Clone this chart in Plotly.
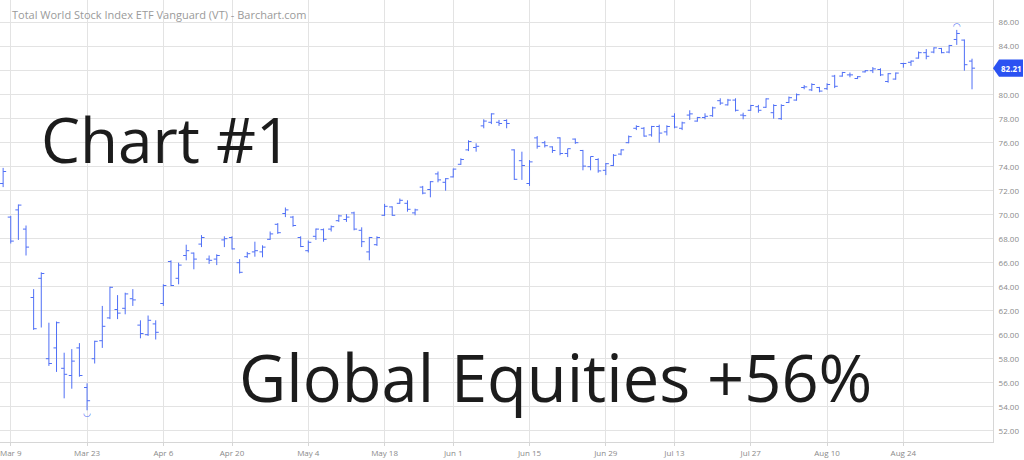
import plotly.graph_objects as go

dates = ["2020-03-06","2020-03-09","2020-03-10","2020-03-11","2020-03-12","2020-03-13",
 "2020-03-16","2020-03-17","2020-03-18","2020-03-19","2020-03-20",
 "2020-03-23","2020-03-24","2020-03-25","2020-03-26","2020-03-27",
 "2020-03-30","2020-03-31","2020-04-01","2020-04-02","2020-04-03",
 "2020-04-06","2020-04-07","2020-04-08","2020-04-09",
 "2020-04-13","2020-04-14","2020-04-15","2020-04-16","2020-04-17",
 "2020-04-20","2020-04-21","2020-04-22","2020-04-23","2020-04-24",
 "2020-04-27","2020-04-28","2020-04-29","2020-04-30","2020-05-01",
 "2020-05-04","2020-05-05","2020-05-06","2020-05-07","2020-05-08",
 "2020-05-11","2020-05-12","2020-05-13","2020-05-14","2020-05-15",
 "2020-05-18","2020-05-19","2020-05-20","2020-05-21","2020-05-22",
 "2020-05-26","2020-05-27","2020-05-28","2020-05-29",
 "2020-06-01","2020-06-02","2020-06-03","2020-06-04","2020-06-05",
 "2020-06-08","2020-06-09","2020-06-10","2020-06-11","2020-06-12",
 "2020-06-15","2020-06-16","2020-06-17","2020-06-18","2020-06-19",
 "2020-06-22","2020-06-23","2020-06-24","2020-06-25","2020-06-26",
 "2020-06-29","2020-06-30","2020-07-01","2020-07-02",
 "2020-07-06","2020-07-07","2020-07-08","2020-07-09","2020-07-10",
 "2020-07-13","2020-07-14","2020-07-15","2020-07-16","2020-07-17",
 "2020-07-20","2020-07-21","2020-07-22","2020-07-23","2020-07-24",
 "2020-07-27","2020-07-28","2020-07-29","2020-07-30","2020-07-31",
 "2020-08-03","2020-08-04","2020-08-05","2020-08-06","2020-08-07",
 "2020-08-10","2020-08-11","2020-08-12","2020-08-13","2020-08-14",
 "2020-08-17","2020-08-18","2020-08-19","2020-08-20","2020-08-21",
 "2020-08-24","2020-08-25","2020-08-26","2020-08-27","2020-08-28",
 "2020-08-31","2020-09-01","2020-09-02","2020-09-03","2020-09-04"]

opens = [72.6,69.8,70.4,68.8,63.1,64.7,
 58.0,58.9,57.2,56.6,58.9,
 55.6,58.0,59.5,61.4,62.1,
 62.2,63.0,60.8,60.0,60.9,
 62.6,66.1,64.7,66.6,
 66.8,67.55,66.3,66.3,67.9,
 68.1,66.0,66.5,66.9,66.9,
 67.95,69.2,70.1,69.8,68.1,
 67.0,68.2,68.75,68.8,69.5,
 69.6,70.15,68.7,66.9,67.5,
 69.95,70.65,70.95,70.95,70.15,
 72.3,72.1,73.4,72.7,
 73.15,74.2,75.4,75.6,77.4,
 77.7,77.7,77.85,75.4,74.5,
 72.6,76.4,76.0,75.65,76.4,
 75.1,76.3,75.35,74.0,74.6,
 73.7,74.1,75.05,76.0,
 77.2,77.2,76.65,77.35,76.9,
 78.2,77.2,78.3,77.8,78.1,
 78.25,79.5,79.15,79.55,78.3,
 78.7,79.0,78.95,78.5,78.0,
 79.35,79.55,80.6,80.4,80.6,
 80.5,81.55,81.55,81.65,81.35,
 81.9,82.0,82.1,81.1,81.3,
 82.6,82.7,83.05,83.5,83.55,
 83.85,83.55,84.6,84.55,82.8]

highs = [73.9,69.9,70.85,69.1,63.8,65.2,
 61.0,61.1,58.5,58.8,59.3,
 55.95,59.5,62.4,64.0,63.3,
 63.5,63.8,61.2,61.6,61.2,
 64.2,66.2,66.0,67.5,
 66.85,68.3,66.6,66.7,68.2,
 68.2,66.3,66.9,67.75,67.45,
 68.6,69.3,70.6,69.9,68.2,
 67.85,68.85,68.85,69.1,70.0,
 70.05,70.25,68.95,68.15,68.2,
 70.9,70.7,71.35,71.2,70.5,
 72.4,72.8,73.6,73.05,
 73.85,74.7,76.2,75.95,77.95,
 78.45,77.9,77.95,75.45,75.25,
 74.55,76.55,76.15,75.7,76.45,
 75.5,76.35,75.4,74.85,74.7,
 74.3,75.05,75.45,76.6,
 77.45,77.3,77.4,77.5,77.45,
 78.45,77.75,78.7,78.15,78.45,
 79.0,79.7,79.65,79.7,78.5,
 79.15,79.15,79.7,79.2,79.2,
 79.85,80.1,80.8,80.95,80.65,
 80.95,81.65,81.9,81.85,81.55,
 82.05,82.3,82.2,81.8,81.85,
 82.65,82.85,83.6,83.8,83.95,
 83.9,84.15,85.4,84.6,83.0]

lows = [72.3,67.6,67.9,66.6,60.4,60.6,
 57.4,56.9,54.7,55.5,56.5,
 53.7,57.6,58.9,61.3,61.3,
 61.7,62.4,59.7,59.9,59.6,
 62.4,64.05,64.2,66.2,
 65.45,67.3,65.9,65.8,67.3,
 67.1,65.1,66.4,66.5,66.45,
 67.9,68.4,69.8,69.0,67.3,
 66.85,67.9,67.75,68.6,69.4,
 69.4,68.7,67.3,66.2,67.4,
 69.9,69.9,70.9,70.25,69.95,
 71.7,71.45,72.7,72.0,
 73.1,74.15,75.3,75.25,77.2,
 77.55,77.4,77.2,72.9,72.9,
 72.4,75.5,75.6,75.15,74.95,
 74.8,75.9,73.7,73.7,73.5,
 73.3,74.05,74.95,75.95,
 77.05,76.5,76.5,76.0,76.6,
 77.2,77.05,77.9,77.75,77.95,
 78.15,79.15,79.1,78.6,77.95,
 78.65,78.5,78.9,78.0,77.9,
 79.3,79.5,80.45,80.3,80.2,
 80.4,80.55,81.5,81.45,81.3,
 81.85,81.8,81.55,81.0,81.25,
 82.25,82.4,83.0,82.95,83.45,
 83.45,83.45,84.15,82.0,80.45]

closes = [73.6,67.8,70.8,67.3,60.5,65.1,
 57.6,61.0,56.7,57.8,56.6,
 54.5,59.45,60.7,63.95,61.8,
 63.4,62.9,60.1,61.2,60.2,
 64.1,64.1,65.8,67.0,
 66.3,68.1,66.2,66.6,68.0,
 67.15,65.2,66.75,67.0,67.3,
 68.4,68.5,70.4,69.1,67.35,
 67.7,68.8,67.95,69.0,69.9,
 69.8,68.8,67.75,68.1,68.1,
 70.7,69.95,71.2,70.45,70.4,
 71.8,72.75,72.9,73.0,
 73.8,74.6,76.1,75.7,77.8,
 78.4,77.6,77.6,72.95,74.1,
 74.4,75.7,75.75,75.35,75.1,
 75.5,76.0,74.05,74.85,73.65,
 74.25,74.95,75.4,76.5,
 77.35,76.55,77.35,76.8,77.35,
 77.3,77.65,78.4,78.1,78.2,
 78.9,79.3,79.55,78.7,78.25,
 79.1,78.7,79.65,79.1,79.1,
 79.75,80.0,80.65,80.85,80.3,
 80.85,80.7,81.85,81.65,81.5,
 82.0,82.15,81.65,81.75,81.8,
 82.6,82.8,83.5,83.2,83.9,
 83.5,84.1,85.1,82.5,82.21]

tick_dates = ["2020-03-09","2020-03-23","2020-04-06","2020-04-20","2020-05-04",
              "2020-05-18","2020-06-01","2020-06-15","2020-06-29","2020-07-13",
              "2020-07-27","2020-08-10","2020-08-24"]
tick_labels = ["Mar 9","Mar 23","Apr 6","Apr 20","May 4","May 18","Jun 1",
               "Jun 15","Jun 29","Jul 13","Jul 27","Aug 10","Aug 24"]

price_ticks = [52, 54, 56, 58, 60, 62, 64, 66, 68, 70, 72, 74, 76, 78, 80, 82, 84, 86]

title_text = "Total World Stock Index ETF Vanguard (VT) - Barchart.com"
big_text_1 = "Chart #1"
big_text_2 = "Global Equities +56%"

BLUE = "#4f6ff6"
W, H = 1024, 460
ML, MR, MT, MB = 0, 31, 0, 18
PW, PH = W - ML - MR, H - MT - MB

fig = go.Figure()
fig.add_trace(go.Ohlc(
    x=dates, open=opens, high=highs, low=lows, close=closes,
    increasing=dict(line=dict(color=BLUE, width=1)),
    decreasing=dict(line=dict(color=BLUE, width=1)),
    tickwidth=0.4, showlegend=False, hoverinfo="skip"))

# extreme markers
imin = lows.index(min(lows))
imax = highs.index(max(highs))
fig.add_trace(go.Scatter(
    x=[dates[imin], dates[imax]], y=[lows[imin] - 0.25, highs[imax] + 0.3],
    mode="text", text=["◡", "◠"], textfont=dict(color=BLUE, size=9, family="DejaVu Sans"),
    textposition="middle center", showlegend=False, hoverinfo="skip"))

last_close = closes[-1]
# the last-price badge covers the nearest price label
covered = min(price_ticks, key=lambda v: abs(v - last_close))
price_labels = ["" if v == covered else f"{v:.2f}" for v in price_ticks]

def px_x(p):
    return (p - ML) / PW

def px_y(p):
    return 1 - (p - MT) / PH

fig.update_layout(
    width=W, height=H,
    margin=dict(l=ML, r=MR, t=MT, b=MB, pad=0),
    paper_bgcolor="white", plot_bgcolor="white",
    font=dict(family="Open Sans", color="#8a8a8a", size=8),
    xaxis=dict(
        type="category", range=[-0.41, 129.75],
        tickmode="array", tickvals=tick_dates, ticktext=tick_labels,
        showgrid=True, gridcolor="#e3e3e3", gridwidth=1,
        showline=True, linecolor="#d6d6d6", linewidth=1,
        ticks="outside", ticklen=3, tickcolor="#d6d6d6",
        tickfont=dict(size=8, color="#8a8a8a"),
        rangeslider=dict(visible=False), automargin=False, fixedrange=True),
    yaxis=dict(
        side="right", range=[51.06, 87.89],
        tickmode="array", tickvals=price_ticks, ticktext=price_labels,
        showgrid=True, gridcolor="#e3e3e3", gridwidth=1, zeroline=False,
        showline=True, linecolor="#d6d6d6", linewidth=1,
        ticks="", ticklabelstandoff=3,
        tickfont=dict(size=8, color="#8a8a8a"), automargin=False, fixedrange=True),
)

# last price label
x0 = 1.0
x1 = 1.0 + 6 / PW
x2 = 1.0 + 30 / PW
hh = 0.72
fig.add_shape(type="path", xref="paper", yref="y",
              path=f"M {x0} {last_close} L {x1} {last_close+hh} L {x2} {last_close+hh} "
                   f"L {x2} {last_close-hh} L {x1} {last_close-hh} Z",
              fillcolor="#2b52f2", line=dict(width=0), layer="above")
fig.add_annotation(xref="paper", yref="y", x=(x1 + x2) / 2, y=last_close,
                   text=f"<b>{last_close:.2f}</b>", showarrow=False,
                   font=dict(color="white", size=8, family="Open Sans"),
                   xanchor="center", yanchor="middle")

fig.add_annotation(xref="paper", yref="paper", x=px_x(10), y=px_y(15),
                   text=title_text, showarrow=False, xanchor="left", yanchor="middle",
                   font=dict(size=11, color="#9a9a9a", family="Open Sans"))
fig.add_annotation(xref="paper", yref="paper", x=px_x(39), y=px_y(139),
                   text=big_text_1, showarrow=False, xanchor="left", yanchor="middle",
                   font=dict(size=62, color="#1c1c1c", family="Open Sans"))
fig.add_annotation(xref="paper", yref="paper", x=px_x(237), y=px_y(377),
                   text=big_text_2, showarrow=False, xanchor="left", yanchor="middle",
                   font=dict(size=65, color="#1c1c1c", family="Open Sans"))

fig.write_html("out.html", config={"displayModeBar": False},
               post_script="document.body.style.margin='0';")
